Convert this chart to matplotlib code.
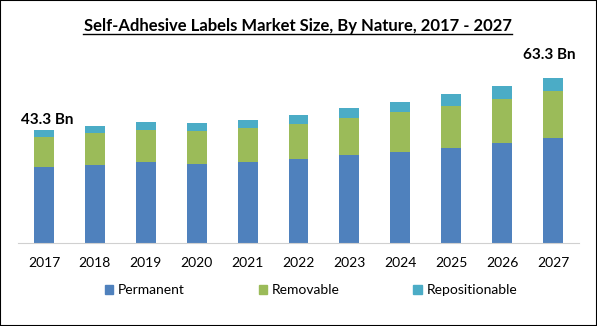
import numpy as np
import matplotlib.pyplot as plt
from matplotlib.patches import Rectangle
from matplotlib.lines import Line2D

years = ["2017", "2018", "2019", "2020", "2021", "2022", "2023", "2024", "2025", "2026", "2027"]
permanent = [29.2, 29.9, 31.1, 30.3, 31.1, 32.2, 33.8, 34.9, 36.4, 38.4, 40.3]
removable = [11.5, 12.3, 12.3, 12.7, 13.0, 13.4, 14.2, 15.3, 16.1, 16.9, 18.0]
repositionable = [2.6, 2.7, 3.1, 3.1, 3.1, 3.5, 3.8, 3.8, 4.6, 5.0, 5.0]
series = ["Permanent", "Removable", "Repositionable"]
colors = ["#4F81BD", "#9BBB59", "#4BACC6"]

plt.rcParams['font.family'] = ['Lato', 'DejaVu Sans']

W, H = 597, 326
fig = plt.figure(figsize=(W / 100, H / 100), dpi=100)
ax = fig.add_axes([18.5 / W, (H - 243) / H, 560 / W, (243 - 60.5) / H])

x = np.arange(len(years))
p = np.array(permanent)
r = np.array(removable)
q = np.array(repositionable)
ax.bar(x, p, width=0.39, color=colors[0], label=series[0])
ax.bar(x, r, width=0.39, bottom=p, color=colors[1], label=series[1])
ax.bar(x, q, width=0.39, bottom=p + r, color=colors[2], label=series[2])

ax.set_xlim(-0.5, len(years) - 0.5)
ax.set_ylim(0, 70)
ax.set_xticks(x)
ax.set_xticklabels(years, fontsize=10)
ax.tick_params(axis='x', length=0, pad=10)
ax.set_yticks([])
for s in ["top", "left", "right"]:
    ax.spines[s].set_visible(False)
ax.spines["bottom"].set_color("#D0D0D0")

# value labels (offsets in points)
tot = p + r + q
ax.annotate(f"{tot[0]:.1f} Bn", (x[0], tot[0]), xytext=(2.5, 7), textcoords="offset points",
            ha="center", va="center", fontsize=11, fontweight="bold")
ax.annotate(f"{tot[-1]:.1f} Bn", (x[-1], tot[-1]), xytext=(-3, 16.5), textcoords="offset points",
            ha="center", va="center", fontsize=11, fontweight="bold")

t = fig.text(297.5 / W, 1 - 31 / H, "Self-Adhesive Labels Market Size, By Nature, 2017 - 2027",
             ha="center", va="baseline", fontsize=12, fontweight="bold")
fig.add_artist(Line2D([83 / W, 512 / W], [1 - 34 / H, 1 - 34 / H], color="black", lw=1))

handles = [Rectangle((0, 0), 1, 1, color=c) for c in colors]
fig.legend(handles, series, loc="center", bbox_to_anchor=(311 / W, 1 - 290 / H), ncol=3,
           frameon=False, fontsize=10, handlelength=0.6, handleheight=0.6,
           handletextpad=0.35, columnspacing=5.3)

fig.add_artist(Rectangle((0, 0), 1, 1, transform=fig.transFigure, fill=False,
                         edgecolor="black", lw=1.5))
fig.savefig("out.png", dpi=100)
